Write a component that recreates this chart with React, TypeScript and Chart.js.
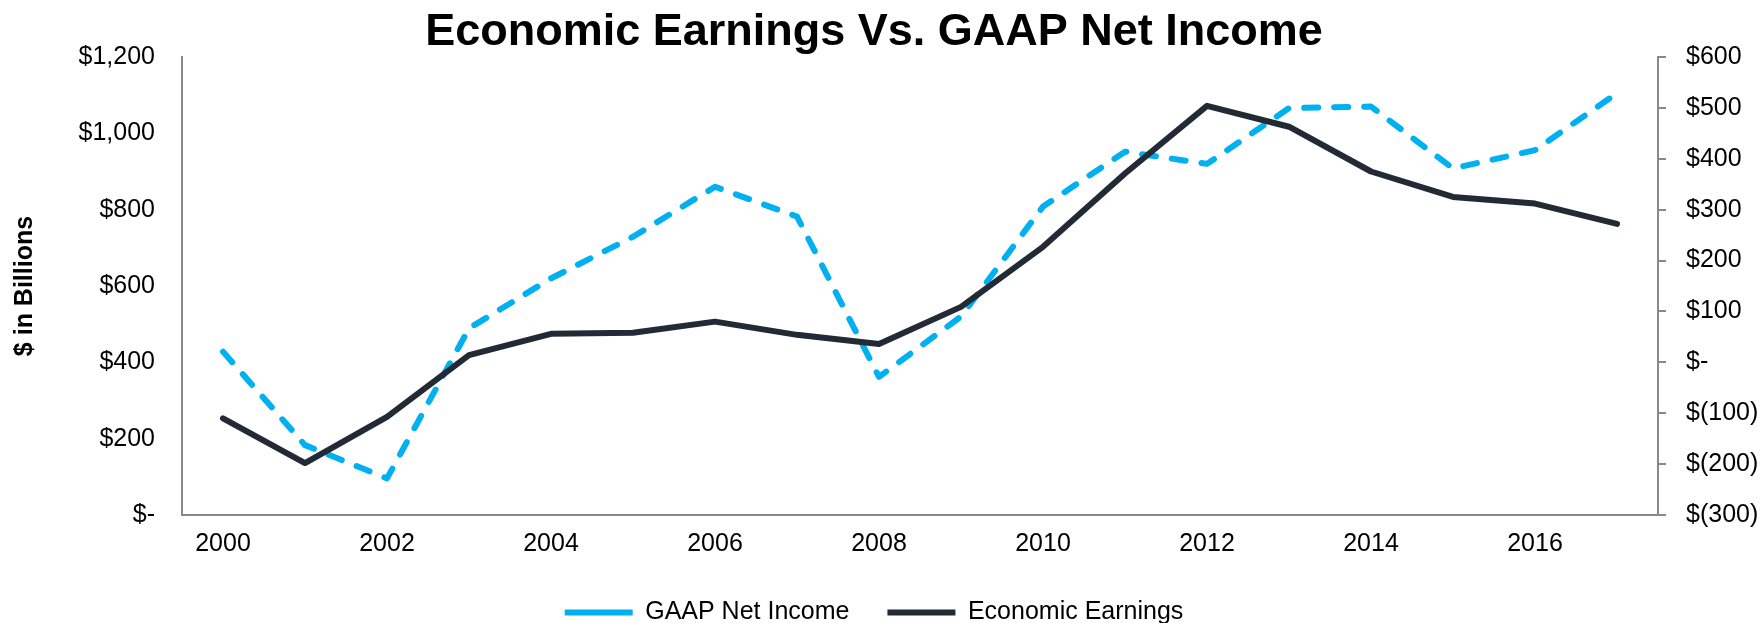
import React, { useEffect, useRef } from "react";
import { Chart, registerables } from "chart.js";

Chart.register(...registerables);

const years = ["2000","2001","2002","2003","2004","2005","2006","2007","2008","2009","2010","2011","2012","2013","2014","2015","2016","2017"];
const gaapNetIncome = [428, 183, 96, 489, 620, 729, 860, 782, 362, 520, 808, 952, 920, 1066, 1070, 908, 956, 1105];
const economicEarnings = [-110, -198, -107, 14, 56, 58, 80, 54, 36, 109, 227, 371, 504, 463, 375, 325, 312, 272];

const leftTickFormat = (v: number) => (v === 0 ? "$-" : "$" + v.toLocaleString("en-US"));
const rightTickFormat = (v: number) =>
  v === 0 ? "$-" : v < 0 ? "$(" + Math.abs(v).toLocaleString("en-US") + ")" : "$" + v.toLocaleString("en-US");

const FONT = "'Liberation Sans', Arial, sans-serif";
const AXIS_GRAY = "#898989";

export default function App() {
  const ref = useRef<HTMLCanvasElement | null>(null);

  useEffect(() => {
    if (!ref.current) return;
    Chart.defaults.font.family = FONT;
    const chart = new Chart(ref.current, {
      type: "line",
      data: {
        labels: years,
        datasets: [
          {
            label: "GAAP Net Income",
            data: gaapNetIncome,
            yAxisID: "y",
            borderColor: "#00B0F0",
            backgroundColor: "#00B0F0",
            borderWidth: 6,
            borderDash: [14, 16],
            borderCapStyle: "round",
            borderJoinStyle: "round",
            pointRadius: 0,
            tension: 0,
            order: 2,
          },
          {
            label: "Economic Earnings",
            data: economicEarnings,
            yAxisID: "y1",
            borderColor: "#222A35",
            backgroundColor: "#222A35",
            borderWidth: 6,
            borderCapStyle: "round",
            borderJoinStyle: "round",
            pointRadius: 0,
            tension: 0,
            order: 1,
          },
        ],
      },
      options: {
        animation: false,
        responsive: false,
        devicePixelRatio: 1,
        layout: { padding: 0 },
        plugins: {
          title: {
            display: true,
            text: "Economic Earnings Vs. GAAP Net Income",
            color: "#000",
            font: { family: FONT, size: 45, weight: "bold", lineHeight: 1 },
            padding: { top: 10, bottom: 2 },
          },
          legend: {
            position: "bottom",
            labels: {
              usePointStyle: true,
              pointStyle: "line",
              pointStyleWidth: 68,
              padding: 38,
              color: "#000",
              font: { family: FONT, size: 25 },
              sort: (a: any, b: any) => a.datasetIndex - b.datasetIndex,
            },
          },
          tooltip: { enabled: false },
        },
        scales: {
          x: {
            type: "category",
            offset: true,
            grid: { display: false, drawTicks: false },
            border: { display: true, color: AXIS_GRAY, width: 2 },
            ticks: {
              autoSkip: false,
              maxRotation: 0,
              padding: 14,
              color: "#000",
              font: { family: FONT, size: 25 },
              callback: (_v: any, i: number) => (i % 2 === 0 ? years[i] : ""),
            },
            afterFit: (s: any) => {
              s.height = 47;
            },
          },
          y: {
            position: "left",
            min: 0,
            max: 1200,
            grid: { display: false, drawTicks: false },
            border: { display: true, color: AXIS_GRAY, width: 2 },
            ticks: {
              stepSize: 200,
              padding: 27,
              color: "#000",
              font: { family: FONT, size: 25 },
              callback: (v: any) => leftTickFormat(Number(v)),
            },
            title: {
              display: true,
              text: "$ in Billions",
              color: "#000",
              font: { family: FONT, size: 25, weight: "bold" },
              padding: { top: 24, bottom: 0 },
            },
            afterFit: (s: any) => {
              s.width = 196;
            },
          },
          y1: {
            position: "right",
            min: -300,
            max: 600,
            grid: {
              display: true,
              drawOnChartArea: false,
              drawTicks: true,
              tickLength: 8,
              color: AXIS_GRAY,
              lineWidth: 2,
            },
            border: { display: true, color: AXIS_GRAY, width: 2 },
            ticks: {
              stepSize: 100,
              padding: 20,
              color: "#000",
              font: { family: FONT, size: 25 },
              callback: (v: any) => rightTickFormat(Number(v)),
            },
            afterFit: (s: any) => {
              s.width = 104;
            },
          },
        },
      } as any,
    });
    return () => chart.destroy();
  }, []);

  return (
    <div
      style={{
        position: "fixed",
        left: 0,
        top: 0,
        width: 1762,
        height: 623,
        overflow: "hidden",
        background: "#fff",
      }}
    >
      <canvas
        ref={ref}
        width={1776}
        height={635}
        style={{ display: "block", position: "absolute", left: -14, top: 0 }}
      />
    </div>
  );
}
